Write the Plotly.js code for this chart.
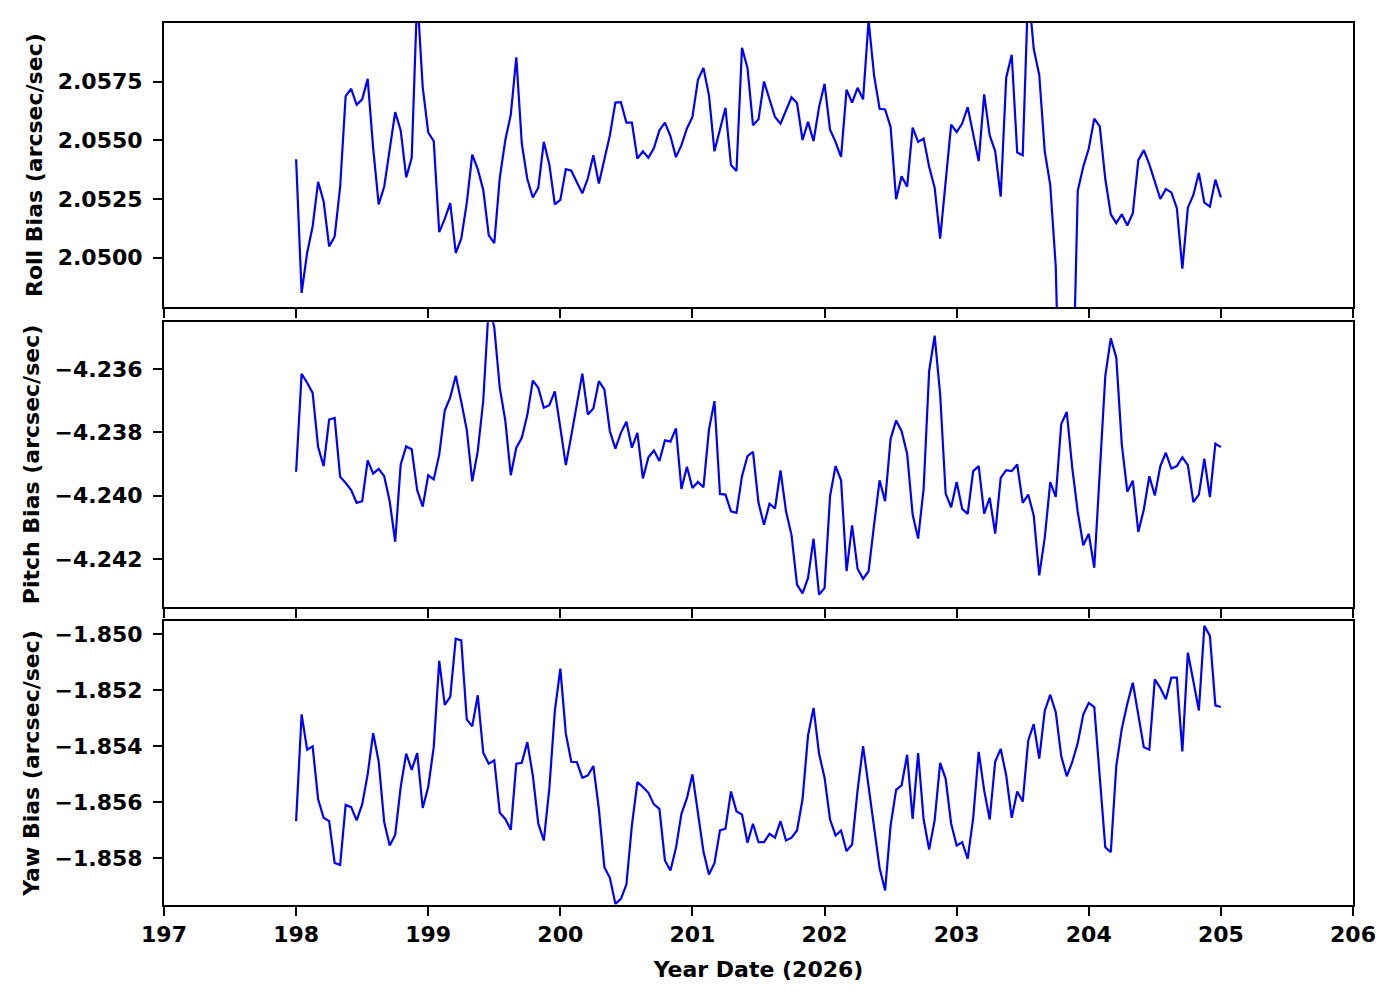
<!DOCTYPE html>
<html>
<head>
<meta charset="utf-8">
<script src="https://cdn.plot.ly/plotly-3.0.1.min.js"></script>
<style>
  html, body { margin: 0; padding: 0; background: #fff; }
  #chart { width: 1400px; height: 1000px; }
</style>
</head>
<body>
<div id="chart"></div>
<script>
// hourly samples, day 198.0 .. 205.0
const START_DAY = 198;
const STEP_DAY = 1 / 24;

const rollBias = [
  2.05419, 2.04850, 2.05020, 2.05133, 2.05323, 2.05239, 2.05048, 2.05090, 2.05302, 2.05688,
  2.05719, 2.05651, 2.05674, 2.05761, 2.05465, 2.05227, 2.05302, 2.05458, 2.05620, 2.05542,
  2.05342, 2.05425, 2.06120, 2.05726, 2.05533, 2.05496, 2.05109, 2.05165, 2.05232, 2.05020,
  2.05081, 2.05232, 2.05439, 2.05377, 2.05288, 2.05095, 2.05062, 2.05340, 2.05500, 2.05609,
  2.05853, 2.05486, 2.05335, 2.05256, 2.05298, 2.05493, 2.05397, 2.05227, 2.05246, 2.05377,
  2.05370, 2.05321, 2.05274, 2.05338, 2.05436, 2.05316, 2.05419, 2.05521, 2.05660, 2.05662,
  2.05575, 2.05575, 2.05422, 2.05453, 2.05425, 2.05467, 2.05542, 2.05575, 2.05518, 2.05428,
  2.05479, 2.05550, 2.05599, 2.05757, 2.05808, 2.05691, 2.05453, 2.05545, 2.05638, 2.05394,
  2.05369, 2.05893, 2.05808, 2.05564, 2.05589, 2.05750, 2.05677, 2.05599, 2.05571, 2.05630,
  2.05683, 2.05658, 2.05501, 2.05578, 2.05496, 2.05641, 2.05740, 2.05545, 2.05493, 2.05429,
  2.05715, 2.05660, 2.05723, 2.05674, 2.06010, 2.05775, 2.05634, 2.05631, 2.05556, 2.05249,
  2.05347, 2.05302, 2.05554, 2.05493, 2.05507, 2.05387, 2.05298, 2.05081, 2.05331, 2.05566,
  2.05535, 2.05571, 2.05641, 2.05528, 2.05411, 2.05695, 2.05521, 2.05453, 2.05260, 2.05766,
  2.05864, 2.05448, 2.05436, 2.06150, 2.05889, 2.05778, 2.05453, 2.05309, 2.04963, 2.04020,
  2.03950, 2.04300, 2.05285, 2.05387, 2.05465, 2.05592, 2.05559, 2.05335, 2.05185, 2.05147,
  2.05185, 2.05137, 2.05189, 2.05415, 2.05458, 2.05397, 2.05328, 2.05250, 2.05292, 2.05278,
  2.05211, 2.04953, 2.05213, 2.05267, 2.05361, 2.05234, 2.05217, 2.05332, 2.05257
];

const pitchBias = [
  -4.23925, -4.23616, -4.23644, -4.23676, -4.23847, -4.23907, -4.23760, -4.23755, -4.23941, -4.23960,
  -4.23983, -4.24023, -4.24018, -4.23889, -4.23931, -4.23916, -4.23939, -4.24018, -4.24146, -4.23902,
  -4.23845, -4.23854, -4.23983, -4.24035, -4.23936, -4.23949, -4.23871, -4.23732, -4.23690, -4.23622,
  -4.23704, -4.23792, -4.23955, -4.23860, -4.23700, -4.23400, -4.23469, -4.23660, -4.23763, -4.23936,
  -4.23849, -4.23818, -4.23746, -4.23637, -4.23660, -4.23723, -4.23715, -4.23671, -4.23786, -4.23904,
  -4.23810, -4.23718, -4.23615, -4.23744, -4.23725, -4.23639, -4.23665, -4.23797, -4.23852, -4.23802,
  -4.23767, -4.23849, -4.23802, -4.23946, -4.23879, -4.23858, -4.23891, -4.23826, -4.23830, -4.23788,
  -4.23979, -4.23909, -4.23976, -4.23957, -4.23974, -4.23792, -4.23702, -4.23995, -4.23997, -4.24050,
  -4.24055, -4.23939, -4.23876, -4.23862, -4.24023, -4.24092, -4.24026, -4.24041, -4.23921, -4.24050,
  -4.24125, -4.24281, -4.24309, -4.24260, -4.24136, -4.24313, -4.24292, -4.24002, -4.23907, -4.23952,
  -4.24239, -4.24094, -4.24231, -4.24263, -4.24239, -4.24092, -4.23952, -4.24018, -4.23821, -4.23763,
  -4.23797, -4.23868, -4.24060, -4.24136, -4.23978, -4.23607, -4.23495, -4.23681, -4.23994, -4.24037,
  -4.23957, -4.24042, -4.24058, -4.23923, -4.23907, -4.24057, -4.24007, -4.24120, -4.23944, -4.23920,
  -4.23923, -4.23902, -4.24023, -4.23997, -4.24063, -4.24252, -4.24134, -4.23958, -4.24004, -4.23774,
  -4.23736, -4.23913, -4.24052, -4.24157, -4.24121, -4.24228, -4.23931, -4.23623, -4.23504, -4.23565,
  -4.23839, -4.23988, -4.23953, -4.24115, -4.24044, -4.23939, -4.24000, -4.23907, -4.23865, -4.23915,
  -4.23907, -4.23879, -4.23904, -4.24021, -4.23997, -4.23884, -4.24005, -4.23836, -4.23847
];

const yawBias = [
  -1.85668, -1.85287, -1.85413, -1.85401, -1.85590, -1.85656, -1.85668, -1.85817, -1.85824, -1.85610,
  -1.85618, -1.85665, -1.85608, -1.85501, -1.85354, -1.85455, -1.85671, -1.85755, -1.85717, -1.85546,
  -1.85427, -1.85485, -1.85425, -1.85621, -1.85546, -1.85404, -1.85096, -1.85253, -1.85225, -1.85017,
  -1.85023, -1.85305, -1.85330, -1.85219, -1.85424, -1.85463, -1.85451, -1.85638, -1.85660, -1.85699,
  -1.85463, -1.85460, -1.85386, -1.85505, -1.85677, -1.85737, -1.85552, -1.85275, -1.85124, -1.85356,
  -1.85457, -1.85457, -1.85513, -1.85505, -1.85471, -1.85624, -1.85832, -1.85870, -1.85963, -1.85945,
  -1.85894, -1.85683, -1.85529, -1.85546, -1.85567, -1.85608, -1.85624, -1.85808, -1.85844, -1.85764,
  -1.85642, -1.85586, -1.85501, -1.85645, -1.85776, -1.85858, -1.85818, -1.85701, -1.85695, -1.85562,
  -1.85633, -1.85644, -1.85745, -1.85677, -1.85743, -1.85743, -1.85713, -1.85727, -1.85668, -1.85737,
  -1.85727, -1.85701, -1.85590, -1.85362, -1.85264, -1.85427, -1.85513, -1.85662, -1.85719, -1.85701,
  -1.85775, -1.85751, -1.85558, -1.85400, -1.85549, -1.85683, -1.85835, -1.85915, -1.85683, -1.85556,
  -1.85540, -1.85431, -1.85660, -1.85425, -1.85662, -1.85769, -1.85665, -1.85460, -1.85517, -1.85677,
  -1.85755, -1.85743, -1.85802, -1.85657, -1.85421, -1.85558, -1.85662, -1.85455, -1.85410, -1.85505,
  -1.85656, -1.85562, -1.85598, -1.85380, -1.85322, -1.85445, -1.85275, -1.85217, -1.85279, -1.85436,
  -1.85508, -1.85457, -1.85389, -1.85288, -1.85246, -1.85261, -1.85511, -1.85761, -1.85779, -1.85471,
  -1.85338, -1.85249, -1.85174, -1.85290, -1.85404, -1.85413, -1.85162, -1.85193, -1.85233, -1.85156,
  -1.85156, -1.85419, -1.85067, -1.85169, -1.85273, -1.84971, -1.85007, -1.85255, -1.85261
];

const yearLabel = 'Year Date (2026)';
const panelTitles = ['Roll Bias (arcsec/sec)', 'Pitch Bias (arcsec/sec)', 'Yaw Bias (arcsec/sec)'];

const days = rollBias.map((_, i) => START_DAY + i * STEP_DAY);

const baseFont = { family: 'DejaVu Sans', size: 22, color: '#000', weight: 'bold' };

function xAxis(anchor, labels) {
  return {
    anchor: anchor,
    range: [197, 206],
    tick0: 197, dtick: 1,
    ticks: 'outside', ticklen: 9, tickwidth: 2, tickcolor: '#000',
    showline: true, linewidth: 2, linecolor: '#000', mirror: true,
    showgrid: false, zeroline: false,
    showticklabels: labels,
    ticklabelstandoff: 0,
    tickfont: baseFont
  };
}

function yAxis(domain, range, tick0, dtick, fmt, title) {
  return {
    domain: domain,
    range: range,
    tick0: tick0, dtick: dtick, tickformat: fmt,
    ticks: 'outside', ticklen: 9, tickwidth: 2, tickcolor: '#000',
    showline: true, linewidth: 2, linecolor: '#000', mirror: true,
    showgrid: false, zeroline: false,
    ticklabelstandoff: 6,
    tickfont: baseFont,
    title: { text: title, font: baseFont, standoff: 9 }
  };
}

const lineStyle = { color: '#0000ff', width: 2.2 };

const data = [
  { x: days, y: rollBias, xaxis: 'x', yaxis: 'y', type: 'scatter', mode: 'lines', line: lineStyle },
  { x: days, y: pitchBias, xaxis: 'x2', yaxis: 'y2', type: 'scatter', mode: 'lines', line: lineStyle },
  { x: days, y: yawBias, xaxis: 'x3', yaxis: 'y3', type: 'scatter', mode: 'lines', line: lineStyle }
];

const xBottom = xAxis('y3', true);
xBottom.title = { text: yearLabel, font: baseFont, standoff: 15 };

const layout = {
  width: 1400, height: 1000,
  margin: { l: 164, r: 47, t: 23, b: 95 },
  paper_bgcolor: '#fff', plot_bgcolor: '#fff',
  showlegend: false,
  font: baseFont,
  xaxis: xAxis('y', false),
  xaxis2: xAxis('y2', false),
  xaxis3: xBottom,
  yaxis: yAxis([0.6777, 1], [2.04789, 2.05999], 2.05, 0.0025, '.4f', panelTitles[0]),
  yaxis2: yAxis([0.3382, 0.6607], [-4.24351, -4.23453], -4.24, 0.002, '.3f', panelTitles[1]),
  yaxis3: yAxis([0, 0.322], [-1.85967, -1.84954], -1.85, 0.002, '.3f', panelTitles[2])
};

Plotly.newPlot('chart', data, layout, { staticPlot: true });
</script>
</body>
</html>
